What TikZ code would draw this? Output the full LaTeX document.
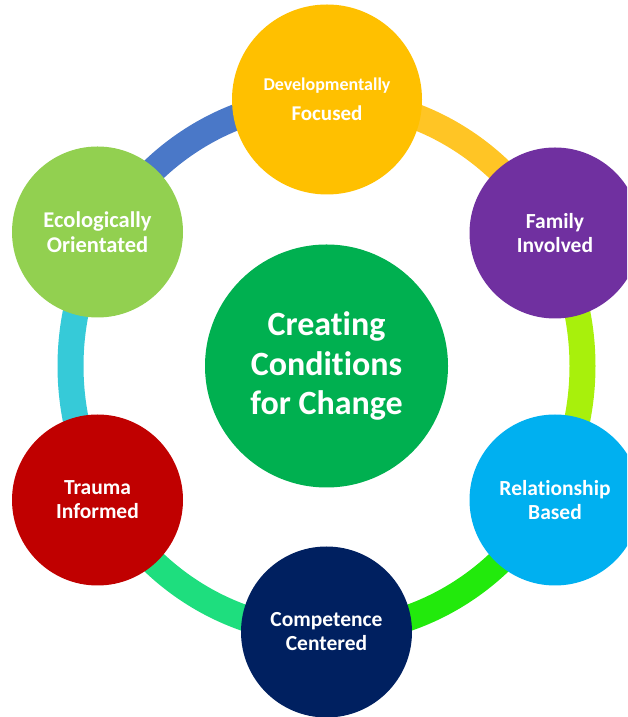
\documentclass[tikz,border=0pt]{standalone}
\usepackage{fontspec}
\setmainfont{Carlito}[Ligatures=NoCommon]
\definecolor{devyellow}{HTML}{FFC000}
\definecolor{familypurple}{HTML}{7030A0}
\definecolor{relblue}{HTML}{00B0F0}
\definecolor{compnavy}{HTML}{002060}
\definecolor{traumared}{HTML}{C00000}
\definecolor{ecogreen}{HTML}{92D050}
\definecolor{coregreen}{HTML}{00B050}
\definecolor{ringblue}{HTML}{4A78C8}
\definecolor{ringgold}{HTML}{FFC525}
\definecolor{ringlime}{HTML}{A8F00C}
\definecolor{ringgreen}{HTML}{22EA0C}
\definecolor{ringmint}{HTML}{1EDE7E}
\definecolor{ringcyan}{HTML}{36CAD8}
\tikzset{
  bubble/.style={circle, inner sep=0pt, minimum size=171pt, text=white, align=center,
    font=\bfseries\fontsize{21.5}{24}\selectfont},
  band/.style={line width=26pt}
}
\begin{document}
\begin{tikzpicture}[x=1pt, y=1pt]
    \useasboundingbox (0, 0) rectangle (627, 717);
    \clip (0, 0) rectangle (627, 717);
    \coordinate (ring) at (326.5, 351);
    % ring segments
    \draw[band, ringblue] (ring) ++(90:256 and 266) arc[start angle=90, end angle=150, x radius=256pt, y radius=266pt];
    \draw[band, ringgold] (ring) ++(30:256 and 266) arc[start angle=30, end angle=90, x radius=256pt, y radius=266pt];
    \draw[band, ringlime] (ring) ++(-30:256 and 266) arc[start angle=-30, end angle=30, x radius=256pt, y radius=266pt];
    \draw[band, ringgreen] (ring) ++(-90:256 and 266) arc[start angle=-90, end angle=-30, x radius=256pt, y radius=266pt];
    \draw[band, ringmint] (ring) ++(-150:256 and 266) arc[start angle=-150, end angle=-90, x radius=256pt, y radius=266pt];
    \draw[band, ringcyan] (ring) ++(150:256 and 266) arc[start angle=150, end angle=210, x radius=256pt, y radius=266pt];
    % circles
    \node[bubble, fill=coregreen, minimum size=243pt, font=\bfseries\fontsize{34}{39.5}\selectfont] (core) at (326.5, 351) {Creating\\Conditions\\for Change};
    \node[bubble, fill=devyellow, minimum size=190pt, font=\bfseries\fontsize{18}{30}\selectfont] (dev) at (327, 617.5) {Developmentally\\\fontsize{21}{30}\selectfont Focused};
    \node[bubble, fill=familypurple] (family) at (555, 484) {Family\\Involved};
    \node[bubble, fill=relblue] (relation) at (555, 217) {Relationship\\Based};
    \node[bubble, fill=compnavy] (competence) at (326.5, 85) {Competence\\Centered};
    \node[bubble, fill=traumared] (trauma) at (97.5, 217) {Trauma\\Informed};
    \node[bubble, fill=ecogreen, font=\bfseries\fontsize{22.5}{25}\selectfont] (ecology) at (97.5, 485) {Ecologically\\Orientated};
\end{tikzpicture}
\end{document}
